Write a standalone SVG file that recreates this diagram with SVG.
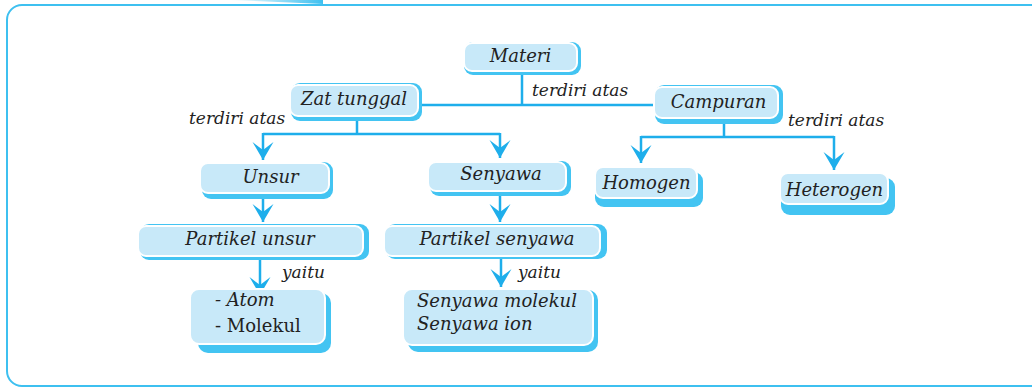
<svg xmlns="http://www.w3.org/2000/svg" width="1032" height="387" viewBox="0 0 1032 387">
<defs>
<linearGradient id="sw" x1="0" y1="0" x2="1" y2="0">
<stop offset="0" stop-color="#3ec0f0" stop-opacity="0"/>
<stop offset="1" stop-color="#3ec0f0" stop-opacity="1"/>
</linearGradient>
<marker id="ah" markerUnits="userSpaceOnUse" markerWidth="22" markerHeight="24" viewBox="-19 -12 21 24" refX="0" refY="0" orient="auto">
<path d="M0,0 L-18,-10.5 L-10,0 L-18,10.5 Z" fill="#1eaeeb"/>
</marker>
</defs>
<style>
.sh{fill:#43c4f2}
.bx{fill:#c8e9f9;stroke:#fff;stroke-width:2}
.t{font-family:"DejaVu Serif",serif;font-style:italic;font-size:18px;fill:#222}
.l{font-size:17px}
.up{font-style:normal}
.c{fill:none;stroke:#1eaeeb;stroke-width:2.5}
.fr{fill:none;stroke:#3ec0f0;stroke-width:2}
</style>
<rect width="1032" height="387" fill="#fff"/>
<g id="frame">
<rect class="fr" x="7" y="5" width="1040" height="381" rx="15"/>
<path d="M228,0 L323,0 L323,4 Q280,2 228,0 Z" fill="url(#sw)"/>
</g>
<g id="connectors">
<path class="c" d="M522,75 V105 M421,105 H654"/>
<path class="c" d="M357,121 V134 M263,134 H500"/>
<path class="c" d="M263,133 V160" marker-end="url(#ah)"/>
<path class="c" d="M500,133 V158" marker-end="url(#ah)"/>
<path class="c" d="M263,199 V222" marker-end="url(#ah)"/>
<path class="c" d="M500,196 V222" marker-end="url(#ah)"/>
<path class="c" d="M260,260 V295" marker-end="url(#ah)"/>
<path class="c" d="M501,259 V287" marker-end="url(#ah)"/>
<path class="c" d="M724,124 V137 M641,137 H834"/>
<path class="c" d="M641,136 V163" marker-end="url(#ah)"/>
<path class="c" d="M834,136 V170" marker-end="url(#ah)"/>
</g>
<g id="labels">
<text class="t l" x="532" y="96">terdiri atas</text>
<text class="t l" x="189" y="124">terdiri atas</text>
<text class="t l" x="788" y="126">terdiri atas</text>
<text class="t l" x="282" y="278">yaitu</text>
<text class="t l" x="518" y="278">yaitu</text>
</g>
<g id="materi">
<rect class="sh" x="464" y="42" width="117" height="33" rx="9"/>
<rect class="bx" x="464" y="43" width="113" height="28" rx="8"/>
<text class="t" x="520.5" y="62" text-anchor="middle">Materi</text>
</g>
<g id="zat-tunggal">
<rect class="sh" x="291" y="83" width="131" height="38" rx="9"/>
<rect class="bx" x="290" y="85" width="128" height="31" rx="8"/>
<text class="t" x="354" y="105" text-anchor="middle">Zat tunggal</text>
</g>
<g id="campuran">
<rect class="sh" x="655" y="85" width="128" height="39" rx="9"/>
<rect class="bx" x="654" y="87" width="124" height="31" rx="8"/>
<text class="t" x="718.5" y="108" text-anchor="middle">Campuran</text>
</g>
<g id="unsur">
<rect class="sh" x="202" y="162" width="131" height="37" rx="9"/>
<rect class="bx" x="200" y="163" width="129" height="30" rx="8"/>
<text class="t" x="270.5" y="183" text-anchor="middle">Unsur</text>
</g>
<g id="senyawa">
<rect class="sh" x="430" y="161" width="141" height="35" rx="9"/>
<rect class="bx" x="428" y="162" width="138" height="29" rx="8"/>
<text class="t" x="501" y="180" text-anchor="middle">Senyawa</text>
</g>
<g id="partikel-unsur">
<rect class="sh" x="140" y="224" width="229" height="36" rx="9"/>
<rect class="bx" x="138" y="226" width="225" height="30" rx="8"/>
<text class="t" x="250" y="245" text-anchor="middle">Partikel unsur</text>
</g>
<g id="partikel-senyawa">
<rect class="sh" x="386" y="224" width="221" height="35" rx="9"/>
<rect class="bx" x="384" y="226" width="216" height="30" rx="8"/>
<text class="t" x="497" y="245" text-anchor="middle">Partikel senyawa</text>
</g>
<g id="homogen">
<rect class="sh" x="595" y="172" width="108" height="35" rx="9"/>
<rect class="bx" x="595" y="167" width="102" height="31" rx="8"/>
<text class="t" x="646.5" y="189" text-anchor="middle">Homogen</text>
</g>
<g id="heterogen">
<rect class="sh" x="781" y="178" width="114" height="37" rx="9"/>
<rect class="bx" x="780" y="173" width="108" height="31" rx="8"/>
<text class="t" x="834.5" y="196" text-anchor="middle">Heterogen</text>
</g>
<g id="atom-molekul">
<rect class="sh" x="198" y="293" width="133" height="60" rx="10"/>
<rect class="bx" x="190" y="289" width="135" height="55" rx="9"/>
<text class="t" x="215" y="306">- Atom</text>
<text class="t up" x="215" y="332">- Molekul</text>
</g>
<g id="senyawa-molekul-ion">
<rect class="sh" x="408" y="290" width="190" height="62" rx="10"/>
<rect class="bx" x="403" y="289" width="190" height="56" rx="9"/>
<text class="t" x="417" y="307">Senyawa molekul</text>
<text class="t" x="417" y="330">Senyawa ion</text>
</g>
</svg>
